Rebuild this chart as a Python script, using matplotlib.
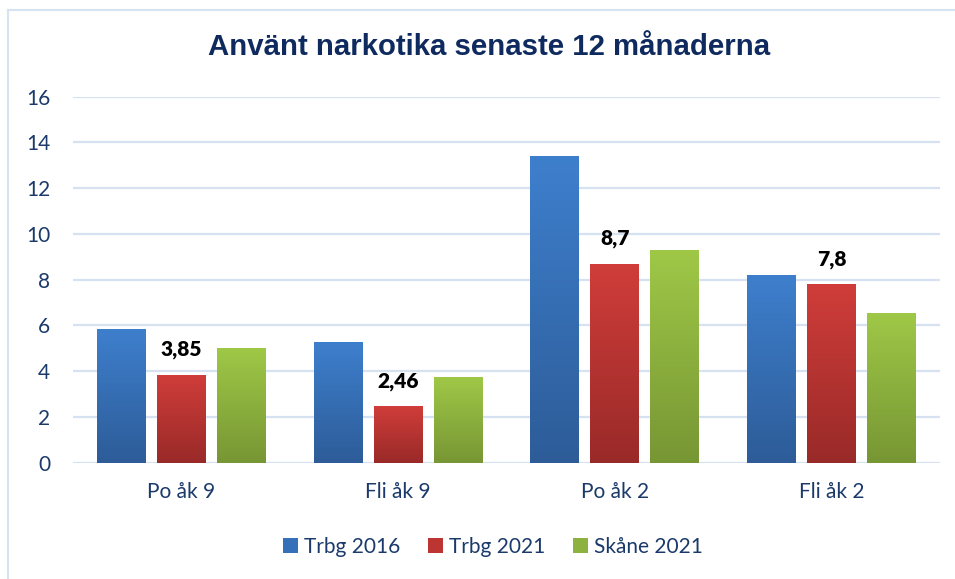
import numpy as np
import matplotlib
matplotlib.use("Agg")
import matplotlib.pyplot as plt
from matplotlib.colors import LinearSegmentedColormap
from matplotlib.lines import Line2D

categories = ["Po åk 9", "Fli åk 9", "Po åk 2", "Fli åk 2"]
series_names = ["Trbg 2016", "Trbg 2021", "Skåne 2021"]
trbg_2016 = [5.84, 5.27, 13.4, 8.2]
trbg_2021 = [3.85, 2.46, 8.7, 7.8]
skane_2021 = [5.01, 3.75, 9.3, 6.54]
label_texts = ["3,85", "2,46", "8,7", "7,8"]
yticks = [0, 2, 4, 6, 8, 10, 12, 14, 16]

values = [trbg_2016, trbg_2021, skane_2021]
grad = [("#3E7FCD", "#2D5C98"), ("#D03D3A", "#992A28"), ("#9FC847", "#779634")]
mid = ["#3670B8", "#BC3533", "#8DB23F"]

plt.rcParams['font.family'] = ['Lato', 'DejaVu Sans']
txt_col = "#1B3A6B"

fig = plt.figure(figsize=(9.55, 5.79), dpi=100)
ax = fig.add_axes([73/955, 1-462.7/579, (940-73)/955, (462.7-96.7)/579])

x = np.arange(len(categories))
w = 0.226
step = 0.2768
gradient = np.linspace(0, 1, 256).reshape(-1, 1)
for i, (vals, (ctop, cbot)) in enumerate(zip(values, grad)):
    bars = ax.bar(x + (i - 1) * step, vals, width=w, color=mid[i], label=series_names[i], zorder=3, linewidth=0)
    cmap = LinearSegmentedColormap.from_list("g%d" % i, [cbot, ctop])
    for b in bars:
        x0, y0 = b.get_x(), b.get_y()
        bw, bh = b.get_width(), b.get_height()
        im = ax.imshow(gradient, cmap=cmap, origin='lower', aspect='auto',
                       extent=[x0, x0 + bw, y0, y0 + bh], zorder=4)
        im.set_clip_path(b)
    if i == 1:
        for b, t in zip(bars, label_texts):
            ax.annotate(t, (b.get_x() + b.get_width() / 2, b.get_height()),
                        xytext=(0, 18), textcoords='offset points',
                        ha='center', va='center', fontsize=15,
                        fontweight='heavy', color='black', zorder=6)

ax.set_xlim(-0.5, 3.5)
ax.set_ylim(0, 16)
ax.set_yticks(yticks)
ax.set_yticklabels([str(v) for v in yticks])
ax.set_xticks(x)
ax.set_xticklabels(categories)
ax.tick_params(axis='both', length=0, labelsize=15, labelcolor=txt_col)
ax.tick_params(axis='y', pad=16.5)
ax.tick_params(axis='x', pad=14)
ax.grid(axis='y', color='#D6E2F2', linewidth=1.6, zorder=0)
ax.set_axisbelow(True)
for s in ax.spines.values():
    s.set_visible(False)

fig.text(489/955, 1-47/579, "Använt narkotika senaste 12 månaderna",
         ha='center', va='center', fontsize=21.2, fontweight='bold',
         color='#0E2A5F', family=['Liberation Sans', 'DejaVu Sans'])

leg = fig.legend(loc='center', bbox_to_anchor=(493/955, 1-547/579), ncol=3,
                 frameon=False, fontsize=15, handlelength=0.7, handleheight=0.7,
                 handletextpad=0.3, columnspacing=1.34)
for t in leg.get_texts():
    t.set_color(txt_col)

# chart border (partially clipped)
fig.add_artist(Line2D([8/955, 8/955], [0, 1-10/579], color='#D6E3F3', linewidth=1.5))
fig.add_artist(Line2D([8/955, 1], [1-10/579, 1-10/579], color='#D6E3F3', linewidth=1.5))

fig.savefig("out.png", dpi=100)
